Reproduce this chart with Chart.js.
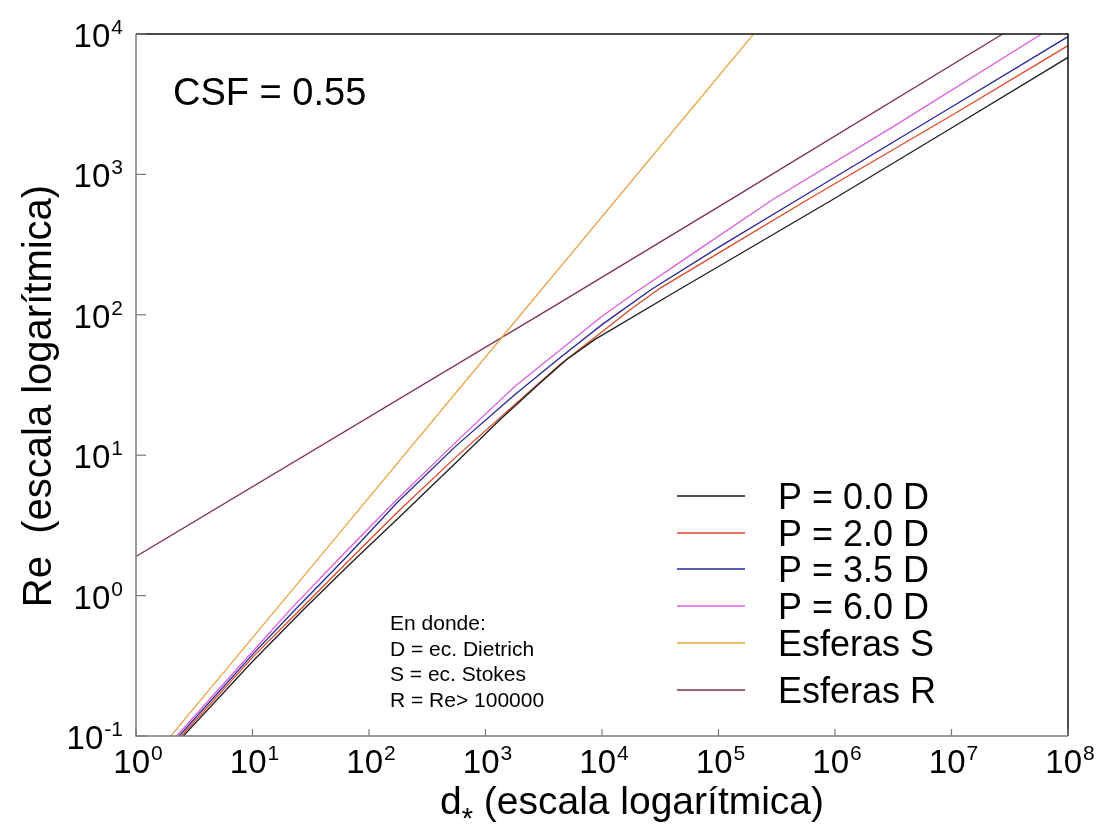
<!DOCTYPE html>
<html>
<head>
<meta charset="utf-8">
<script src="https://cdn.jsdelivr.net/npm/chart.js@4.4.1/dist/chart.umd.min.js"></script>
<style>
  html, body { margin: 0; padding: 0; background: #fff; }
  canvas { display: block; }
</style>
</head>
<body>
<canvas id="chart" width="1110" height="828"></canvas>
<script>
// d* (x) and Re (y), one pair per curve
const dP00 = [2.55, 10, 27.3, 70.8, 184.5, 562, 1330, 2940, 4980, 8710, 43750, 966000, 1e7, 1e8];
const reP00 = [0.1, 0.339, 0.792, 1.72, 3.66, 8.91, 17.9, 32.7, 48.1, 66.8, 147.6, 665, 2140, 6810];

const dP20 = [2.45, 10, 25.6, 70.8, 184.5, 562, 1780, 4360, 8710, 17800, 31600, 1e5, 590000, 1e7, 1e8];
const reP20 = [0.1, 0.363, 0.792, 1.86, 4.09, 9.77, 22.9, 44.3, 69.2, 110, 155, 275, 665, 2630, 8260];

const dP35 = [2.34, 10, 23.2, 63.1, 173, 562, 1780, 4360, 1e4, 26700, 1e5, 484000, 1e7, 1e8];
const reP35 = [0.1, 0.38, 0.792, 1.86, 4.57, 11.7, 26.9, 49.4, 85.1, 152, 302, 665, 3020, 9570];

const dP60 = [2.23, 10, 21, 56.2, 162, 562, 1780, 3460, 1e4, 21200, 56200, 295000, 3.16e6, 5.94e7];
const reP60 = [0.1, 0.398, 0.792, 1.86, 4.57, 12.5, 30.9, 48.1, 97.7, 152, 263, 665, 2190, 1e4];

const dEsfS = [1.99, 26, 900, 2e5];
const reEsfS = [0.1, 1.3, 45, 1e4];

const dEsfR = [1, 4360, 134000, 2.75e7];
const reEsfR = [1.9, 122, 680, 1e4];

const seriesLabels = ['P = 0.0 D', 'P = 2.0 D', 'P = 3.5 D', 'P = 6.0 D', 'Esferas S', 'Esferas R'];
const seriesColors = ['#1e1e1e', '#dd4a26', '#26269a', '#dc5ee0', '#eba64a', '#80305a'];

const xTickExps = [0, 1, 2, 3, 4, 5, 6, 7, 8];
const yTickExps = [-1, 0, 1, 2, 3, 4];

const noteLines = ['En donde:', 'D = ec. Dietrich', 'S = ec. Stokes', 'R = Re> 100000'];

const FONT = '"Liberation Sans", Arial, Helvetica, sans-serif';

function toPoints(xs, ys) {
    return xs.map((v, i) => ({ x: v, y: ys[i] }));
}

const curves = [
    toPoints(dP00, reP00),
    toPoints(dP20, reP20),
    toPoints(dP35, reP35),
    toPoints(dP60, reP60),
    toPoints(dEsfS, reEsfS),
    toPoints(dEsfR, reEsfR)
];

// "10" with a raised exponent, anchored at its centre or right edge
function drawPower(ctx, exp, x, baseY, supY, align) {
    ctx.font = '33px ' + FONT;
    const wBase = ctx.measureText('10').width;
    ctx.font = '21px ' + FONT;
    const wExp = ctx.measureText(String(exp)).width;
    const total = wBase + 1 + wExp;
    const left = align === 'right' ? x - total : x - total / 2;
    ctx.textAlign = 'left';
    ctx.textBaseline = 'alphabetic';
    ctx.font = '33px ' + FONT;
    ctx.fillText('10', left, baseY);
    ctx.font = '21px ' + FONT;
    ctx.fillText(String(exp), left + wBase + 1, supY);
}

const framePlugin = {
    id: 'frame',
    afterDraw(chart) {
        const ctx = chart.ctx;
        const a = chart.chartArea;
        const xs = chart.scales.x;
        const ys = chart.scales.y;
        ctx.save();

        // box: grey left/bottom axes, black top/right
        ctx.lineWidth = 1.5;
        ctx.strokeStyle = '#111';
        ctx.beginPath();
        ctx.moveTo(a.left, a.top);
        ctx.lineTo(a.right, a.top);
        ctx.lineTo(a.right, a.bottom);
        ctx.stroke();
        ctx.strokeStyle = '#7a7a7a';
        ctx.beginPath();
        ctx.moveTo(a.left, a.top);
        ctx.lineTo(a.left, a.bottom);
        ctx.lineTo(a.right, a.bottom);
        ctx.stroke();

        // inward ticks
        ctx.lineWidth = 1.2;
        xTickExps.forEach(e => {
            const px = xs.getPixelForValue(Math.pow(10, e));
            ctx.beginPath();
            ctx.moveTo(px, a.bottom);
            ctx.lineTo(px, a.bottom - 7);
            ctx.stroke();
        });
        yTickExps.forEach(e => {
            const py = ys.getPixelForValue(Math.pow(10, e));
            ctx.beginPath();
            ctx.moveTo(a.left, py);
            ctx.lineTo(a.left + 10, py);
            ctx.stroke();
        });

        // tick labels
        ctx.fillStyle = '#000';
        xTickExps.forEach(e => {
            const px = xs.getPixelForValue(Math.pow(10, e));
            drawPower(ctx, e, px + 2, a.bottom + 37, a.bottom + 24, 'center');
        });
        yTickExps.forEach(e => {
            const py = ys.getPixelForValue(Math.pow(10, e));
            drawPower(ctx, e, a.left - 13, py + 13, py, 'right');
        });

        // axis titles
        ctx.textBaseline = 'alphabetic';
        ctx.font = '39px ' + FONT;
        const restX = ' (escala logarítmica)';
        const wd = ctx.measureText('d').width;
        const wRest = ctx.measureText(restX).width;
        ctx.font = '29px ' + FONT;
        const wStar = ctx.measureText('*').width;
        const totalX = wd + wStar + wRest;
        const tx = 632 - totalX / 2;
        const tBase = 814;
        ctx.textAlign = 'left';
        ctx.font = '39px ' + FONT;
        ctx.fillText('d', tx, tBase);
        ctx.font = '29px ' + FONT;
        ctx.fillText('*', tx + wd, tBase + 14);
        ctx.font = '39px ' + FONT;
        ctx.fillText(restX, tx + wd + wStar, tBase);

        ctx.save();
        ctx.translate(51, 396);
        ctx.rotate(-Math.PI / 2);
        ctx.textAlign = 'center';
        ctx.font = '40px ' + FONT;
        ctx.fillText('Re  (escala logarítmica)', 0, 0);
        ctx.restore();

        // annotations
        ctx.textAlign = 'left';
        ctx.font = '38px ' + FONT;
        ctx.fillText('CSF = 0.55', 173, 105);
        ctx.font = '21px ' + FONT;
        noteLines.forEach((t, i) => {
            ctx.fillText(t, 390, 630 + i * 25.5);
        });

        // legend
        const rowY = [496, 533, 569, 606, 643, 690];
        ctx.font = '36px ' + FONT;
        seriesLabels.forEach((lab, i) => {
            ctx.strokeStyle = seriesColors[i];
            ctx.lineWidth = 1.3;
            ctx.beginPath();
            ctx.moveTo(677, rowY[i]);
            ctx.lineTo(745, rowY[i]);
            ctx.stroke();
            ctx.fillStyle = '#000';
            ctx.fillText(lab, 778, rowY[i] + 13);
        });

        ctx.restore();
    }
};

new Chart(document.getElementById('chart'), {
    type: 'scatter',
    data: {
        datasets: curves.map((pts, i) => ({
            label: seriesLabels[i],
            data: pts,
            showLine: true,
            borderColor: seriesColors[i],
            backgroundColor: seriesColors[i],
            borderWidth: 1.3,
            pointRadius: 0,
            tension: 0
        }))
    },
    options: {
        responsive: false,
        animation: false,
        devicePixelRatio: 1,
        layout: { padding: { left: 136, top: 34, right: 42, bottom: 92 } },
        plugins: {
            legend: { display: false },
            tooltip: { enabled: false }
        },
        scales: {
            x: { type: 'logarithmic', min: 1, max: 1e8, display: false },
            y: { type: 'logarithmic', min: 0.1, max: 1e4, display: false }
        }
    },
    plugins: [framePlugin]
});
</script>
</body>
</html>
